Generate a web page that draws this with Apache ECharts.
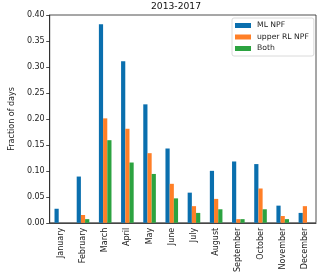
<!DOCTYPE html>
<html>
<head>
<meta charset="utf-8">
<script src="https://cdn.jsdelivr.net/npm/echarts@6/dist/echarts.min.js"></script>
<style>html,body{margin:0;padding:0;background:#fff}#c{width:320px;height:275px}</style>
</head>
<body>
<div id="c"></div>
<script>
var months = ['January','February','March','April','May','June','July','August','September','October','November','December'];
var mlNPF = [0.027, 0.089, 0.382, 0.311, 0.228, 0.143, 0.058, 0.100, 0.118, 0.113, 0.033, 0.019];
var upperRL = [0, 0.015, 0.201, 0.181, 0.134, 0.075, 0.032, 0.046, 0.007, 0.066, 0.013, 0.032];
var both = [0, 0.007, 0.159, 0.116, 0.094, 0.047, 0.019, 0.026, 0.007, 0.026, 0.007, 0];
var seriesNames = ['ML NPF', 'upper RL NPF', 'Both'];
var colors = ['#0a6fae', '#ff7f27', '#2ca340'];

var chart = echarts.init(document.getElementById('c'), null, {renderer: 'canvas'});
var font = 'DejaVu Sans';
var axisCol = '#222';
function mk(name, data, color) {
  return {name: name, type: 'bar', data: data, barWidth: 4.2, barGap: '0%',
    itemStyle: {color: color}, animation: false};
}
chart.setOption({
  animation: false,
  title: {text: '2013-2017', left: 176, top: 2, padding: 0, textAlign: 'center',
    textStyle: {fontFamily: font, fontSize: 9.2, fontWeight: 'normal', color: '#111'}},
  grid: {left: 36, right: 4, top: 15, bottom: 52, show: true, borderColor: axisCol, borderWidth: 0.8, containLabel: false},
  legend: {orient: 'vertical', left: 232, top: 18, data: seriesNames,
    itemWidth: 16, itemHeight: 5, itemGap: 2.5, icon: 'rect',
    padding: [3, 5, 3, 3], borderColor: '#d0d0d0', borderWidth: 0.8, borderRadius: 2,
    textStyle: {fontFamily: font, fontSize: 7.7, color: '#222', lineHeight: 9, padding: [0,0,0,1]}},
  xAxis: {type: 'category', data: months, boundaryGap: true,
    axisLine: {lineStyle: {color: axisCol, width: 0.8}},
    axisTick: {alignWithLabel: true, length: 3.5, lineStyle: {color: axisCol, width: 0.8}},
    axisLabel: {rotate: 90, interval: 0, margin: 5, fontFamily: font, fontSize: 8, color: '#222'}},
  yAxis: {type: 'value', min: 0, max: 0.4, interval: 0.05,
    name: 'Fraction of days', nameLocation: 'middle', nameGap: 27,
    nameTextStyle: {fontFamily: font, fontSize: 8, color: '#222'},
    splitLine: {show: false},
    axisLine: {show: true, lineStyle: {color: axisCol, width: 0.8}},
    axisTick: {show: true, length: 3.5, lineStyle: {color: axisCol, width: 0.8}},
    axisLabel: {margin: 5, fontFamily: font, fontSize: 8, color: '#222',
      formatter: function (v) { return v.toFixed(2); }}},
  series: [mk(seriesNames[0], mlNPF, colors[0]), mk(seriesNames[1], upperRL, colors[1]), mk(seriesNames[2], both, colors[2])]
});
</script>
</body>
</html>
